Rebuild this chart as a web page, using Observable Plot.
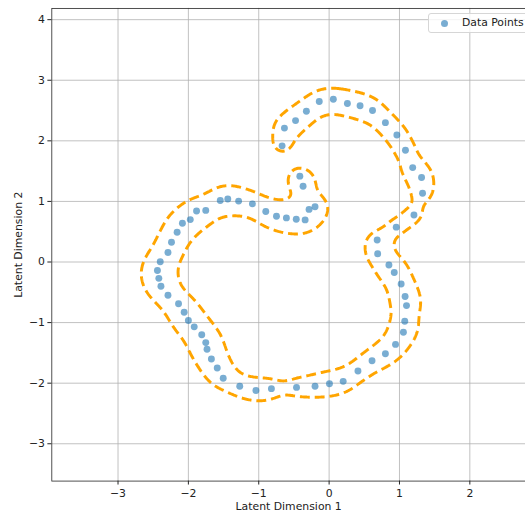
<!DOCTYPE html>
<html>
<head>
<meta charset="utf-8">
<script src="https://cdn.jsdelivr.net/npm/d3@7"></script>
<script src="https://cdn.jsdelivr.net/npm/@observablehq/plot@0.6"></script>
<style>
  body { margin: 0; background: #fff; font-family: "DejaVu Sans", sans-serif; }
  #wrap { position: relative; width: 525px; height: 521px; overflow: hidden; }
  #wrap svg { position: absolute; left: 0; top: 0; }
  .legend {
    position: absolute; left: 428px; top: 13px; width: 110px; height: 20px;
    box-sizing: border-box; border: 1px solid #d6d6d6; border-radius: 3px;
    background: rgba(255, 255, 255, 0.8); z-index: 2;
  }
  .legend .swatch {
    position: absolute; left: 12px; top: 6px; width: 7px; height: 7px; border-radius: 50%;
    background: #1f77b4; opacity: 0.6;
  }
  .legend .text {
    position: absolute; left: 33px; top: 1px; font-size: 10.8px; line-height: 16px; color: #222;
  }
</style>
</head>
<body>
<div id="wrap">
  <div class="legend"><span class="swatch"></span><span class="text">Data Points</span></div>
</div>
<script>
// Latent coordinates of the encoded samples
const latentX = [-0.668,-0.635,-0.477,-0.323,-0.14,0.06,0.26,0.44,0.617,0.80,0.963,1.085,1.188,1.314,1.328,1.206,0.954,0.683,0.69,0.85,0.926,1.024,1.08,1.10,1.075,1.056,0.944,0.80,0.61,0.41,0.20,0.005,-0.20,-0.463,-0.82,-1.04,-1.27,-1.505,-1.59,-1.673,-1.735,-1.753,-1.81,-1.917,-2.0,-2.06,-2.14,-2.29,-2.39,-2.42,-2.44,-2.40,-2.29,-2.24,-2.16,-2.085,-1.973,-1.884,-1.753,-1.547,-1.44,-1.286,-1.09,-0.90,-0.748,-0.607,-0.467,-0.341,-0.285,-0.20,-0.37,-0.416];
const latentY = [1.917,2.21,2.334,2.487,2.65,2.687,2.617,2.58,2.50,2.30,2.096,1.845,1.558,1.395,1.135,0.777,0.575,0.363,0.135,-0.05,-0.174,-0.363,-0.57,-0.72,-0.977,-1.16,-1.36,-1.515,-1.63,-1.80,-1.97,-2.01,-2.05,-2.07,-2.09,-2.12,-2.05,-1.92,-1.75,-1.60,-1.44,-1.33,-1.20,-1.07,-0.966,-0.83,-0.69,-0.55,-0.40,-0.27,-0.14,0.005,0.158,0.326,0.49,0.64,0.70,0.842,0.852,1.015,1.04,1.005,0.96,0.833,0.754,0.728,0.705,0.695,0.868,0.912,1.25,1.417];

const xTicks = [-3, -2, -1, 0, 1, 2];
const yTicks = [-3, -2, -1, 0, 1, 2, 3, 4];
const xLabel = "Latent Dimension 1";
const yLabel = "Latent Dimension 2";

const points = latentX.map((x, i) => ({x, y: latentY[i]}));

// Kernel density of the latent samples; the boundary is one level set of it
const bandwidth = 0.17;
const level = 0.98;
function density(x, y) {
  let v = 0;
  const k = 2 * bandwidth * bandwidth;
  for (let i = 0; i < latentX.length; i++) {
    const dx = x - latentX[i], dy = y - latentY[i];
    v += Math.exp(-(dx * dx + dy * dy) / k);
  }
  return v;
}

const xDomain = [-3.941, 2.791];
const yDomain = [-3.616, 4.186];
const fmt = d => String(d).replace("-", "\u2212");

const chart = Plot.plot({
  width: 532,
  height: 521,
  marginLeft: 52,
  marginRight: 0,
  marginTop: 8,
  marginBottom: 34,
  style: {fontFamily: "DejaVu Sans, sans-serif", fontSize: "11px", color: "#222"},
  x: {domain: xDomain},
  y: {domain: yDomain},
  marks: [
    Plot.gridX(xTicks, {stroke: "#b0b0b0", strokeOpacity: 1, strokeWidth: 0.8}),
    Plot.gridY(yTicks, {stroke: "#b0b0b0", strokeOpacity: 1, strokeWidth: 0.8}),
    Plot.contour({
      value: (x, y) => density(x, y),
      x1: xDomain[0], x2: xDomain[1], y1: yDomain[0], y2: yDomain[1],
      thresholds: [level],
      pixelSize: 1,
      fill: "none",
      stroke: "#FFA500",
      strokeWidth: 3,
      strokeDasharray: "10,5"
    }),
    Plot.dot(points, {x: "x", y: "y", r: 3.5, fill: "#1f77b4", fillOpacity: 0.6, stroke: "none"}),
    Plot.axisX(xTicks, {tickSize: 4, tickPadding: 4, tickFormat: fmt, label: null}),
    Plot.text([xLabel], {frameAnchor: "bottom", lineAnchor: "middle", dy: 26, text: d => d, fill: "#222", fontSize: 11}),
    Plot.axisY(yTicks, {tickSize: 4, tickPadding: 3, tickFormat: fmt, label: yLabel, labelAnchor: "center", labelArrow: "none", labelOffset: 38}),
    Plot.frame({stroke: "#222", strokeWidth: 0.8})
  ]
});
document.getElementById("wrap").appendChild(chart);
</script>
</body>
</html>
